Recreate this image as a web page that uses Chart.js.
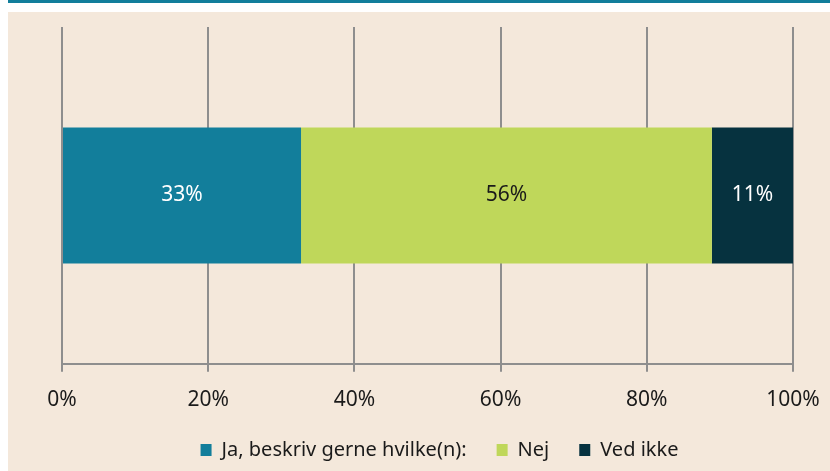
<!DOCTYPE html>
<html>
<head>
<meta charset="utf-8">
<script src="https://cdn.jsdelivr.net/npm/chart.js@4"></script>
<style>
  html, body { margin: 0; padding: 0; background: #fff; }
  #chart { display: block; }
</style>
</head>
<body>
<canvas id="chart" width="830" height="471"></canvas>
<script>
const categories = [""];
const seriesNames = ["Ja, beskriv gerne hvilke(n):", "Nej", "Ved ikke"];
const jaValues = [32.7];
const nejValues = [56.2];
const vedIkkeValues = [11.1];
const tickValues = [0, 20, 40, 60, 80, 100];

const colors = ["#127E9B", "#BFD75A", "#06323F"];
const labelColors = ["#ffffff", "#1a1a1a", "#ffffff"];
const font = "'Noto Sans', sans-serif";

// page frame: white margin, teal rule on top, beige panel
const backdrop = {
  id: "backdrop",
  beforeDraw(chart) {
    const ctx = chart.ctx;
    ctx.save();
    ctx.fillStyle = "#ffffff";
    ctx.fillRect(0, 0, chart.width, chart.height);
    ctx.fillStyle = "#127E9B";
    ctx.fillRect(8, 0, chart.width - 8, 3);
    ctx.fillStyle = "#F4E8DB";
    ctx.fillRect(8, 12, chart.width - 8, chart.height - 12);
    ctx.restore();
  },
};

// nudge the legend a bit right and up, like the original
const legendNudge = {
  id: "legendNudge",
  afterUpdate(chart) {
    const lg = chart.legend;
    lg.left += 12;
    lg.right += 12;
    lg.top -= 19;
    lg.adjustHitBoxes();
  },
};

// percent labels in the middle of each segment
const barLabels = {
  id: "barLabels",
  afterDatasetsDraw(chart) {
    const ctx = chart.ctx;
    ctx.save();
    ctx.font = "21px " + font;
    ctx.textAlign = "center";
    ctx.textBaseline = "middle";
    chart.data.datasets.forEach((ds, i) => {
      chart.getDatasetMeta(i).data.forEach((bar, j) => {
        const c = bar.getCenterPoint();
        ctx.fillStyle = labelColors[i];
        ctx.fillText(Math.round(ds.data[j]) + "%", c.x, c.y);
      });
    });
    ctx.restore();
  },
};

new Chart(document.getElementById("chart").getContext("2d"), {
  type: "bar",
  data: {
    labels: categories,
    datasets: [jaValues, nejValues, vedIkkeValues].map((d, i) => ({
      label: seriesNames[i],
      data: d,
      backgroundColor: colors[i],
      borderWidth: 0,
      barPercentage: 1,
      categoryPercentage: 0.404,
    })),
  },
  options: {
    indexAxis: "y",
    responsive: false,
    animation: false,
    layout: { padding: { left: 62, right: 37, top: 27, bottom: 0 } },
    scales: {
      x: {
        stacked: true,
        min: 0,
        max: 100,
        afterBuildTicks(axis) {
          axis.ticks = tickValues.map((v) => ({ value: v }));
        },
        ticks: {
          callback: (v) => v + "%",
          color: "#1a1a1a",
          font: { family: font, size: 21, lineHeight: 1.77 },
          padding: 10,
          maxRotation: 0,
        },
        grid: {
          color: "#8E8E8E",
          lineWidth: 2,
          tickLength: 8,
        },
        border: { display: true, color: "#8E8E8E", width: 2 },
      },
      y: {
        stacked: true,
        display: false,
      },
    },
    plugins: {
      legend: {
        position: "bottom",
        maxHeight: 42,
        labels: {
          boxWidth: 11,
          boxHeight: 12,
          padding: 30,
          color: "#1a1a1a",
          font: { family: font, size: 20 },
        },
      },
      tooltip: { enabled: false },
    },
  },
  plugins: [backdrop, legendNudge, barLabels],
});
</script>
</body>
</html>
